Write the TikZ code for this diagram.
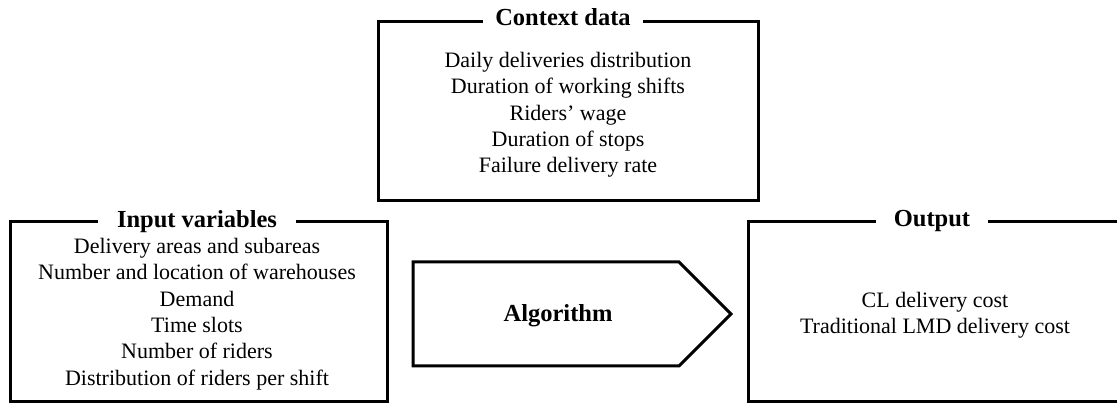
\documentclass[tikz,border=0pt]{standalone}
\usepackage{fontspec}
\setmainfont{Liberation Serif}
\begin{document}
\begin{tikzpicture}[x=1pt,y=-1pt,
  frame/.style={draw,line width=3pt,line join=miter,outer sep=0pt,inner sep=0pt},
  boxtitle/.style={fill=white,font=\fontsize{24.5}{28}\selectfont\bfseries,inner ysep=1pt,anchor=base},
  body/.style={align=center,font=\fontsize{22}{26.3}\selectfont,inner sep=0pt}]
\useasboundingbox (0,0) rectangle (1117,403);
\clip (0,0) rectangle (1117,403);
% frames
\node[frame,minimum width=380,minimum height=179] (ctx) at (568,111.5) {};
\node[frame,minimum width=377,minimum height=179] (inp) at (198.5,311.5) {};
\node[frame,minimum width=374,minimum height=179] (out) at (935,311.5) {};
% algorithm arrow
\coordinate (a1) at (413,262);
\coordinate (a2) at (679,262);
\coordinate (a3) at (731,314);
\coordinate (a4) at (679,366);
\coordinate (a5) at (413,366);
\draw[line width=3pt,line join=miter] (a1) -- (a2) -- (a3) -- (a4) -- (a5) -- cycle;
\node[font=\fontsize{24.5}{28}\selectfont\bfseries,inner sep=0pt] (alg) at (558,316) {Algorithm};
% titles
\node[boxtitle,inner xsep=12pt] (ctxt) at (563,26) {Context data};
\node[boxtitle,inner xsep=19pt] (inpt) at (197,227.5) {Input variables};
\node[boxtitle,inner xsep=18pt] (outt) at (932,227) {Output};
% bodies
\node[body] (ctxb) at (568,115) {Daily deliveries distribution\\Duration of working shifts\\Riders’ wage\\Duration of stops\\Failure delivery rate};
\node[body] (inpb) at (197,314) {Delivery areas and subareas\\Number and location of warehouses\\Demand\\Time slots\\Number of riders\\Distribution of riders per shift};
\node[body] (outb) at (935,315) {CL delivery cost\\Traditional LMD delivery cost};
\end{tikzpicture}
\end{document}
